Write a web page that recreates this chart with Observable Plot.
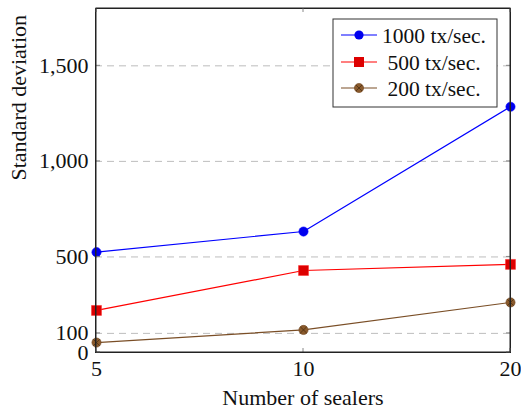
<!DOCTYPE html>
<html>
<head>
<meta charset="utf-8">
<script src="https://cdn.jsdelivr.net/npm/d3@7"></script>
<script src="https://cdn.jsdelivr.net/npm/@observablehq/plot@0.6"></script>
<style>
  html, body { margin: 0; padding: 0; background: #fff; }
  #chart { position: relative; width: 521px; height: 409px; }
</style>
</head>
<body>
<div id="chart"></div>
<script>
const sealers = [5, 10, 20];
const seriesNames = ["1000 tx/sec.", "500 tx/sec.", "200 tx/sec."];
const tx1000 = [525, 633, 1286];
const tx500 = [220, 429, 461];
const tx200 = [52, 118, 262];
const yTicks = [0, 100, 500, 1000, 1500];
const gridTicks = [100, 500, 1000, 1500];

const colors = {"1000 tx/sec.": "#0000ff", "500 tx/sec.": "#ff0000", "200 tx/sec.": "#8a5a2c"};

const rows = [];
[tx1000, tx500, tx200].forEach((vals, i) => {
  vals.forEach((v, j) => rows.push({series: seriesNames[i], x: sealers[j], y: v}));
});
const s1000 = rows.filter(d => d.series === seriesNames[0]);
const s500 = rows.filter(d => d.series === seriesNames[1]);
const s200 = rows.filter(d => d.series === seriesNames[2]);

const font = "'Liberation Serif', 'Times New Roman', serif";

const plot = Plot.plot({
  width: 521,
  height: 409,
  marginLeft: 95,
  marginRight: 11,
  marginTop: 8,
  marginBottom: 57,
  style: {fontFamily: font, fontSize: "22px", background: "#fff", color: "#111"},
  x: {type: "point", domain: sealers, padding: 0},
  y: {domain: [0, 1800]},
  marks: [
    Plot.ruleY(gridTicks, {stroke: "#bdbdbd", strokeWidth: 1, strokeDasharray: "7,5"}),
    Plot.axisY(yTicks, {tickSize: 0, tickPadding: 7, tickFormat: d => d3.format(",")(d), label: null, fontSize: 22}),
    Plot.axisX(sealers, {tickSize: 0, tickPadding: 8, label: null, fontSize: 22}),
    Plot.text(["Standard deviation"], {frameAnchor: "left", dx: -77, rotate: -90, fontSize: 22}),
    Plot.text(["Number of sealers"], {frameAnchor: "bottom", dy: 52, fontSize: 22}),
    Plot.line(s1000, {x: "x", y: "y", stroke: colors[seriesNames[0]], strokeWidth: 1.2}),
    Plot.line(s500, {x: "x", y: "y", stroke: colors[seriesNames[1]], strokeWidth: 1.2}),
    Plot.line(s200, {x: "x", y: "y", stroke: "#7a4e26", strokeWidth: 1.2}),
    Plot.dot(s1000, {x: "x", y: "y", r: 4.6, fill: "#0000ee", stroke: "#0000ff", strokeWidth: 0.6}),
    Plot.dot(s500, {x: "x", y: "y", symbol: "square", r: 5.6, fill: "#dd0000", stroke: "#ff3030", strokeWidth: 0.6}),
    Plot.dot(s200, {x: "x", y: "y", r: 4.6, fill: "#8a5a2c", stroke: "#6e4520", strokeWidth: 0.6}),
    Plot.dot(s200, {x: "x", y: "y", symbol: "times", r: 3.0, stroke: "#4a2e12", strokeWidth: 0.8}),
    Plot.frame({stroke: "#222", strokeWidth: 1})
  ]
});

document.getElementById("chart").appendChild(plot);

// inner tick marks and legend, positioned via the plot's own scales
const xs = plot.scale("x");
const ys = plot.scale("y");
const svg = d3.select(plot);
const xLeft = xs.apply(sealers[0]), xRight = xs.apply(sealers[sealers.length - 1]);
const yBottom = ys.apply(0), yTop = ys.apply(1800);
const tg = svg.append("g").attr("stroke", "#888").attr("stroke-width", 1);
yTicks.forEach(t => {
  const y = ys.apply(t);
  tg.append("line").attr("x1", xLeft).attr("x2", xLeft + 4).attr("y1", y).attr("y2", y);
  tg.append("line").attr("x1", xRight - 4).attr("x2", xRight).attr("y1", y).attr("y2", y);
});
sealers.forEach(s => {
  const x = xs.apply(s);
  tg.append("line").attr("x1", x).attr("x2", x).attr("y1", yBottom).attr("y2", yBottom - 4);
  tg.append("line").attr("x1", x).attr("x2", x).attr("y1", yTop).attr("y2", yTop + 4);
});
svg.append("rect").attr("x", xLeft).attr("y", yTop).attr("width", xRight - xLeft).attr("height", yBottom - yTop)
  .attr("fill", "none").attr("stroke", "#222");

// legend
const lg = svg.append("g").attr("font-family", font).attr("font-size", 21.5);
const lx = 333, ly = 19, lw = 164, lh = 88;
lg.append("rect").attr("x", lx).attr("y", ly).attr("width", lw).attr("height", lh)
  .attr("fill", "#fff").attr("stroke", "#333").attr("stroke-width", 1);
const rowY = [35, 62, 88];
seriesNames.forEach((name, i) => {
  const y = rowY[i];
  const c = i === 2 ? "#7a4e26" : colors[name];
  lg.append("line").attr("x1", 341).attr("x2", 377).attr("y1", y).attr("y2", y)
    .attr("stroke", c).attr("stroke-width", 1.2);
  if (i === 0) {
    lg.append("circle").attr("cx", 359).attr("cy", y).attr("r", 4.6).attr("fill", "#0000ee");
  } else if (i === 1) {
    lg.append("rect").attr("x", 354).attr("y", y - 5).attr("width", 10).attr("height", 10).attr("fill", "#dd0000");
  } else {
    lg.append("circle").attr("cx", 359).attr("cy", y).attr("r", 4.6).attr("fill", "#8a5a2c").attr("stroke", "#6e4520").attr("stroke-width", 0.6);
    lg.append("path").attr("d", `M${359-3},${y-3}L${359+3},${y+3}M${359-3},${y+3}L${359+3},${y-3}`)
      .attr("stroke", "#4a2e12").attr("stroke-width", 0.8);
  }
  lg.append("text").attr("x", 434).attr("y", y).attr("dy", "0.35em").attr("text-anchor", "middle")
    .attr("fill", "#111").text(name);
});
</script>
</body>
</html>
